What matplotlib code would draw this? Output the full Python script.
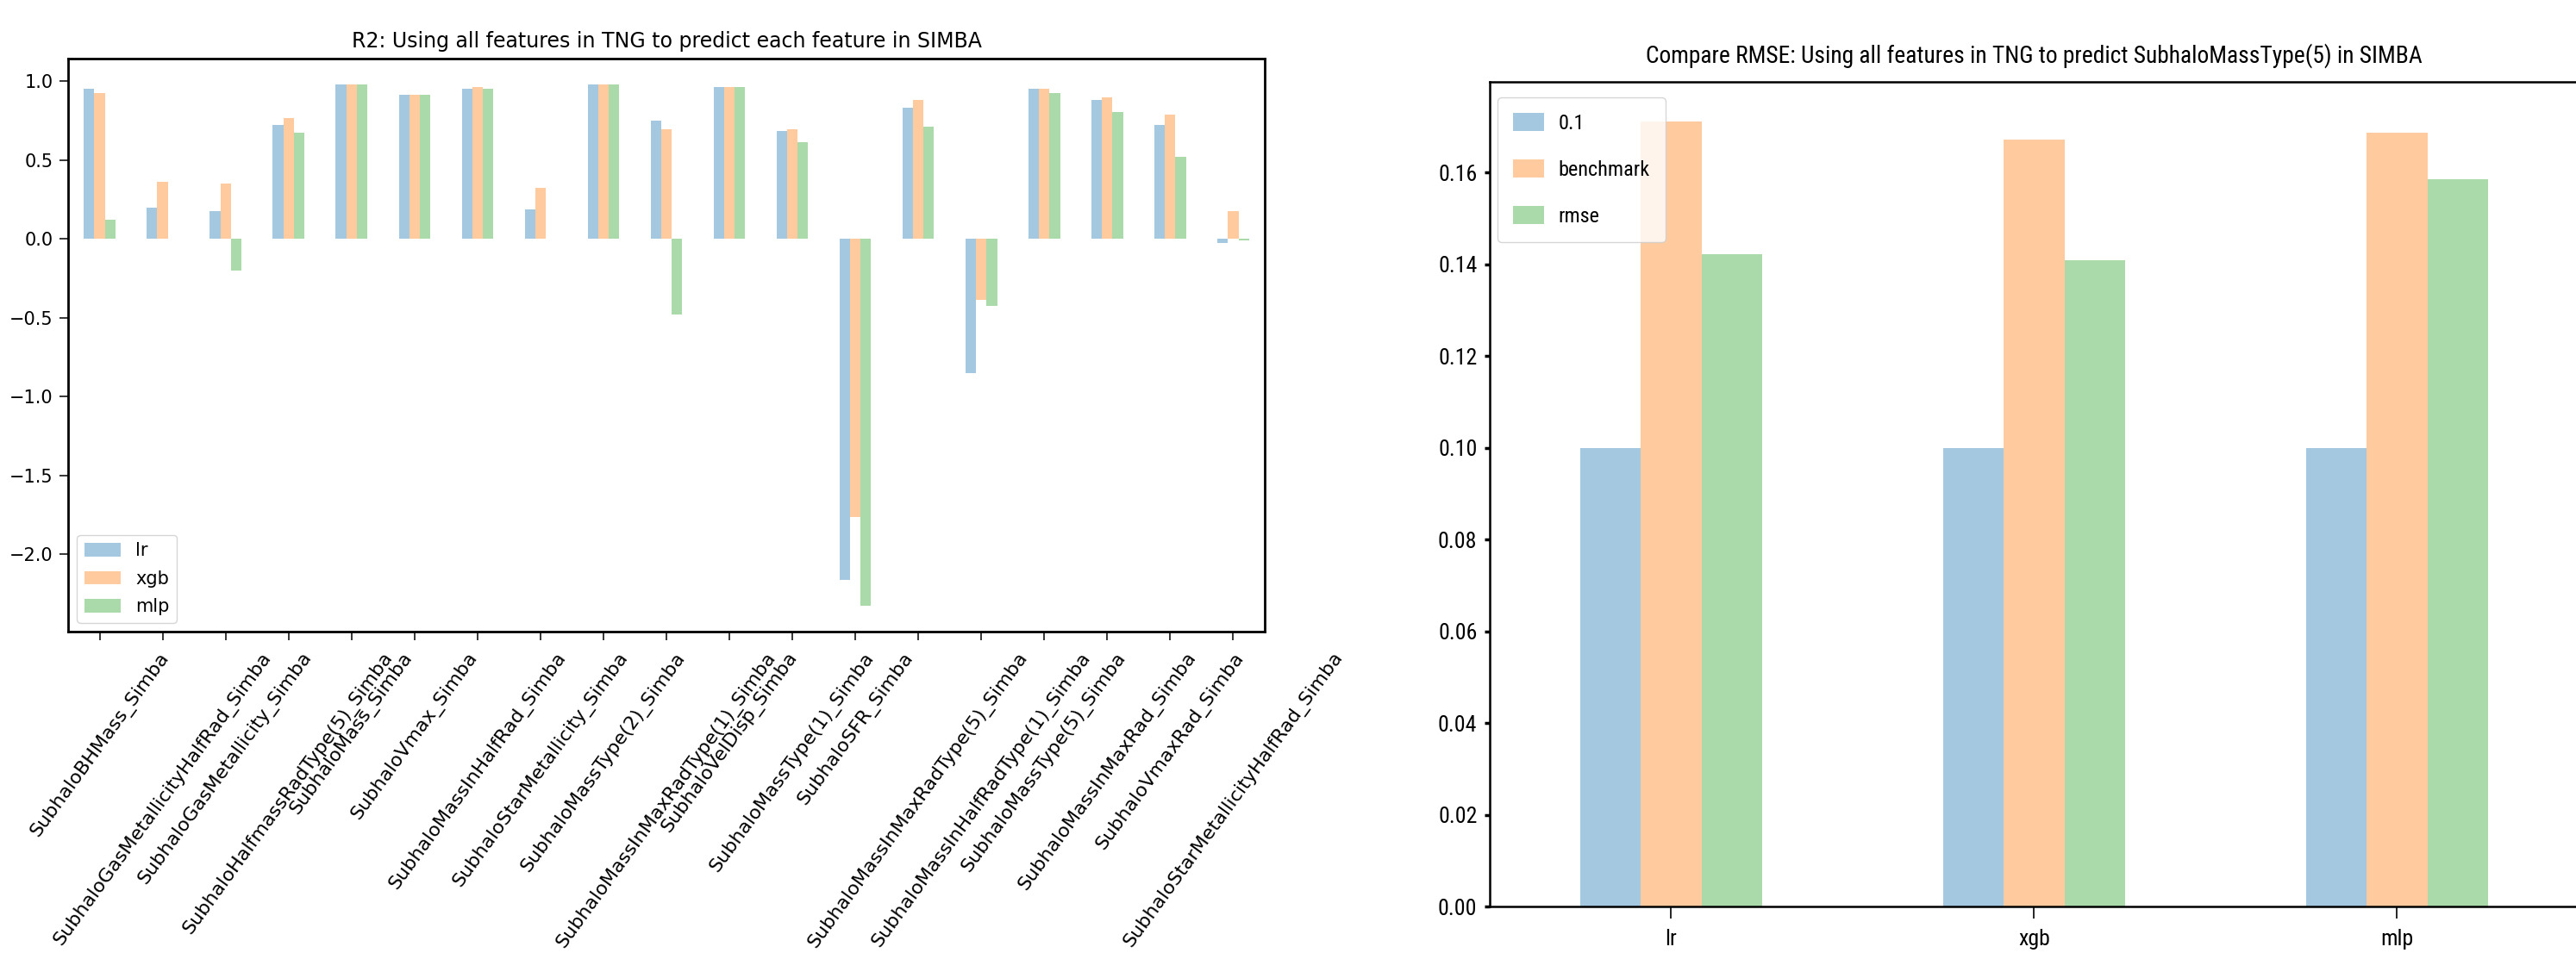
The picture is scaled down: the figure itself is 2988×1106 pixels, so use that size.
import numpy as np
import matplotlib
matplotlib.use("Agg")
import matplotlib.pyplot as plt
from matplotlib import font_manager
from matplotlib.ticker import MultipleLocator

# R2 per target feature, one list per model
features = ['SubhaloBHMass_Simba', 'SubhaloGasMetallicityHalfRad_Simba',
            'SubhaloGasMetallicity_Simba', 'SubhaloHalfmassRadType(5)_Simba',
            'SubhaloMass_Simba', 'SubhaloVmax_Simba', 'SubhaloMassInHalfRad_Simba',
            'SubhaloStarMetallicity_Simba', 'SubhaloMassType(2)_Simba',
            'SubhaloMassInMaxRadType(1)_Simba', 'SubhaloVelDisp_Simba',
            'SubhaloMassType(1)_Simba', 'SubhaloSFR_Simba',
            'SubhaloMassInMaxRadType(5)_Simba', 'SubhaloMassInHalfRadType(1)_Simba',
            'SubhaloMassType(5)_Simba', 'SubhaloMassInMaxRad_Simba',
            'SubhaloVmaxRad_Simba', 'SubhaloStarMetallicityHalfRad_Simba']
r2_lr = [0.954, 0.201, 0.178, 0.724, 0.979, 0.912, 0.954, 0.188, 0.979, 0.750,
         0.966, 0.686, -2.162, 0.830, -0.851, 0.954, 0.884, 0.724, -0.026]
r2_xgb = [0.925, 0.363, 0.351, 0.765, 0.979, 0.912, 0.966, 0.325, 0.979, 0.696,
          0.966, 0.696, -1.763, 0.884, -0.384, 0.954, 0.899, 0.789, 0.178]
r2_mlp = [0.124, np.nan, -0.198, 0.673, 0.979, 0.912, 0.951, np.nan, 0.979, -0.479,
          0.966, 0.616, -2.325, 0.711, -0.425, 0.923, 0.804, 0.523, -0.010]
r2_models = ['lr', 'xgb', 'mlp']

# RMSE for SubhaloMassType(5)
rmse_models = ['lr', 'xgb', 'mlp']
rmse_base = [0.1, 0.1, 0.1]
rmse_benchmark = [0.1712, 0.1672, 0.1686]
rmse_value = [0.1421, 0.1408, 0.1586]
rmse_series = ['0.1', 'benchmark', 'rmse']

colors = ['tab:blue', 'tab:orange', 'tab:green']

# narrower face for the right panel when one is around
installed = {f.name for f in font_manager.fontManager.ttflist}
narrow, grow = 'DejaVu Sans', 1.0
for name in ['Liberation Sans Narrow', 'Roboto Condensed', 'DejaVu Sans Condensed']:
    if name in installed:
        narrow, grow = name, 1.2
        break


def grouped_bars(ax, cols, width=0.5):
    n = len(cols)
    w = width / n
    x = np.arange(len(cols[0]))
    for i, vals in enumerate(cols):
        ax.bar(x - width / 2 + w / 2 + i * w, vals, w, color=colors[i], alpha=0.4)
    ax.set_xlim(-0.5, len(x) - 0.5)
    return x


fig = plt.figure(figsize=(29.88, 11.06), dpi=100)

# left: R2 scores
ax1 = fig.add_axes([0.02644, 0.33725, 0.46452, 0.60127])
x1 = grouped_bars(ax1, [r2_lr, r2_xgb, r2_mlp])
ax1.set_xticks(x1)
ax1.set_xticklabels(features, rotation=54, fontsize=16)
ax1.yaxis.set_major_locator(MultipleLocator(0.5))
ax1.tick_params(axis='y', labelsize=15, length=7.2, width=1.1, pad=5.5)
ax1.tick_params(axis='x', length=7.5, width=1.1, pad=7)
for s in ax1.spines.values():
    s.set_linewidth(2)
ax1.set_title('R2: Using all features in TNG to predict each feature in SIMBA',
              fontsize=17, pad=9)
ax1.legend(r2_models, loc='lower left', fontsize=15, labelspacing=0.6,
           handlelength=2.05, handleheight=0.8, borderaxespad=0.5)

# right: RMSE comparison
ax2 = fig.add_axes([0.57831, 0.04882, 0.42269, 0.86528])
x2 = grouped_bars(ax2, [rmse_base, rmse_benchmark, rmse_value])
ax2.set_xticks(x2)
ax2.set_xticklabels(rmse_models, fontsize=15.5 * grow, family=narrow)
ax2.yaxis.set_major_locator(MultipleLocator(0.02))
ax2.tick_params(axis='y', labelsize=15.5 * grow, length=4, width=2.5, pad=6.5)
ax2.tick_params(axis='x', length=10, width=1.2, pad=9)
for lab in ax2.get_yticklabels():
    lab.set_family(narrow)
for s in ax2.spines.values():
    s.set_linewidth(1.8)
ax2.set_title('Compare RMSE: Using all features in TNG to predict SubhaloMassType(5) in SIMBA',
              fontsize=16.5 * grow, family=narrow, pad=16)
ax2.legend(rmse_series, loc='upper left', bbox_to_anchor=(0.007, 0.981),
           borderaxespad=0, prop={'family': narrow, 'size': 14.5 * grow},
           labelspacing=1.5 / grow, handlelength=1.8 / grow, handleheight=1.15 / grow,
           handletextpad=0.8 / grow, borderpad=0.75)

fig.savefig('out.png', dpi=100)
